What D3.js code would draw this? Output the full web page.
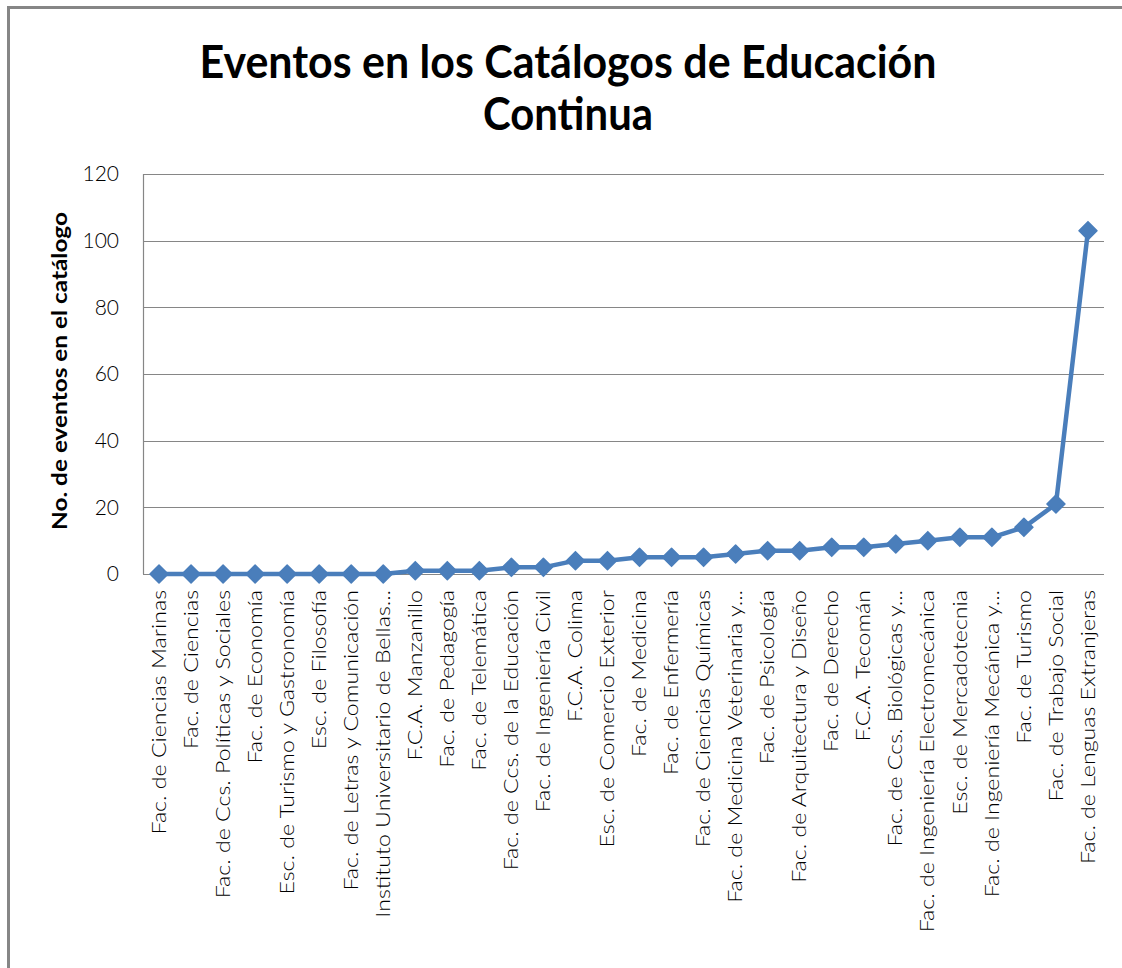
<!DOCTYPE html>
<html>
<head>
<meta charset="utf-8">
<script src="https://cdn.jsdelivr.net/npm/d3@7"></script>
<style>
  body { margin: 0; background: #fff; }
  text { font-family: Lato, "Open Sans", sans-serif; fill: #000; }
</style>
</head>
<body>
<div id="chart"></div>
<script>
// categories (x axis)
var facultades = [
  "Fac. de Ciencias Marinas",
  "Fac. de Ciencias",
  "Fac. de Ccs. Políticas y Sociales",
  "Fac. de Economía",
  "Esc. de Turismo y Gastronomía",
  "Esc. de Filosofía",
  "Fac. de Letras y Comunicación",
  "Instituto Universitario de Bellas...",
  "F.C.A. Manzanillo",
  "Fac. de Pedagogía",
  "Fac. de Telemática",
  "Fac. de Ccs. de la Educación",
  "Fac. de Ingeniería Civil",
  "F.C.A. Colima",
  "Esc. de Comercio Exterior",
  "Fac. de Medicina",
  "Fac. de Enfermería",
  "Fac. de Ciencias Químicas",
  "Fac. de Medicina Veterinaria y...",
  "Fac. de Psicología",
  "Fac. de Arquitectura y Diseño",
  "Fac. de Derecho",
  "F.C.A. Tecomán",
  "Fac. de Ccs. Biológicas y...",
  "Fac. de Ingeniería Electromecánica",
  "Esc. de Mercadotecnia",
  "Fac. de Ingeniería Mecánica y...",
  "Fac. de Turismo",
  "Fac. de Trabajo Social",
  "Fac. de Lenguas Extranjeras"
];
// number of events per catalog
var eventos = [0, 0, 0, 0, 0, 0, 0, 0, 1, 1, 1, 2, 2, 4, 4, 5, 5, 5, 6, 7, 7, 8, 8, 9, 10, 11, 11, 14, 21, 103];
var yTicks = [0, 20, 40, 60, 80, 100, 120];

var titleLines = ["Eventos en los Catálogos de Educación", "Continua"];
var yTitle = "No. de eventos en el catálogo";

var w = 1122, h = 968;
var mLeft = 143, mRight = 1104, mTop = 174, mBottom = 574;

var svg = d3.select("#chart").append("svg")
    .attr("width", w)
    .attr("height", h);

// chart border (only top & left visible in the crop)
svg.append("rect")
    .attr("x", 8.5).attr("y", 7.5)
    .attr("width", 1200).attr("height", 1000)
    .attr("fill", "none")
    .attr("stroke", "#868686")
    .attr("stroke-width", 3);

var x = d3.scaleBand()
    .domain(facultades)
    .range([mLeft, mRight]);

var y = d3.scaleLinear()
    .domain([0, 120])
    .range([mBottom, mTop]);

// gridlines
svg.append("g")
    .selectAll("line")
    .data(yTicks)
    .enter()
    .append("line")
    .attr("x1", mLeft).attr("x2", mRight)
    .attr("y1", function(d) { return Math.round(y(d)) + 0.5; })
    .attr("y2", function(d) { return Math.round(y(d)) + 0.5; })
    .attr("stroke", "#868686")
    .attr("stroke-width", 1.2);

// y axis line
svg.append("line")
    .attr("x1", mLeft + 0.5).attr("x2", mLeft + 0.5)
    .attr("y1", mTop).attr("y2", mBottom)
    .attr("stroke", "#868686")
    .attr("stroke-width", 1.2);

// y tick labels
var yAxis = d3.axisLeft(y).tickValues(yTicks).tickSize(0).tickPadding(24);
var gy = svg.append("g")
    .attr("transform", "translate(" + mLeft + ",0)")
    .call(yAxis);
gy.select(".domain").remove();
gy.selectAll("text")
    .style("font-family", "Lato, sans-serif")
    .style("font-size", "21px")
    .style("font-weight", "300")
    .attr("fill", "#222");

// x labels, rotated
var xAxis = d3.axisBottom(x).tickSize(0).tickPadding(0);
var gx = svg.append("g")
    .attr("transform", "translate(0," + mBottom + ")")
    .call(xAxis);
gx.select(".domain").remove();
gx.selectAll("text")
    .style("font-family", "Lato, sans-serif")
    .style("font-size", "19px")
    .style("font-weight", "300")
    .attr("fill", "#111")
    .attr("text-anchor", "end")
    .attr("dy", "0.35em")
    .attr("y", 0)
    .attr("transform", "translate(0,16) rotate(-90) scale(1.22,1)");

// line
var line = d3.line()
    .x(function(d, i) { return x(facultades[i]) + x.bandwidth() / 2; })
    .y(function(d) { return y(d); });

svg.append("path")
    .datum(eventos)
    .attr("fill", "none")
    .attr("stroke", "#4a7ebb")
    .attr("stroke-width", 4.5)
    .attr("stroke-linejoin", "round")
    .attr("d", line);

// diamond markers
svg.append("g")
    .selectAll("path")
    .data(eventos)
    .enter()
    .append("path")
    .attr("d", "M0,-9L9,0L0,9L-9,0Z")
    .attr("fill", "#4a7ebb")
    .attr("stroke", "#4a7ebb")
    .attr("stroke-width", 1.5)
    .attr("stroke-linejoin", "round")
    .attr("transform", function(d, i) {
        return "translate(" + (x(facultades[i]) + x.bandwidth() / 2) + "," + y(d) + ")";
    });

// title
svg.append("g")
    .selectAll("text")
    .data(titleLines)
    .enter()
    .append("text")
    .attr("x", 568)
    .attr("y", function(d, i) { return 78 + i * 52; })
    .attr("text-anchor", "middle")
    .style("font-size", "45px")
    .style("font-weight", "bold")
    .attr("textLength", function(d, i) { return i == 0 ? 737 : 170; })
    .attr("lengthAdjust", "spacingAndGlyphs")
    .text(function(d) { return d; });

// y title
svg.append("text")
    .attr("transform", "translate(67,371) rotate(-90)")
    .attr("text-anchor", "middle")
    .style("font-size", "21px")
    .style("font-weight", "bold")
    .attr("textLength", 318)
    .attr("lengthAdjust", "spacingAndGlyphs")
    .text(yTitle);
</script>
</body>
</html>
